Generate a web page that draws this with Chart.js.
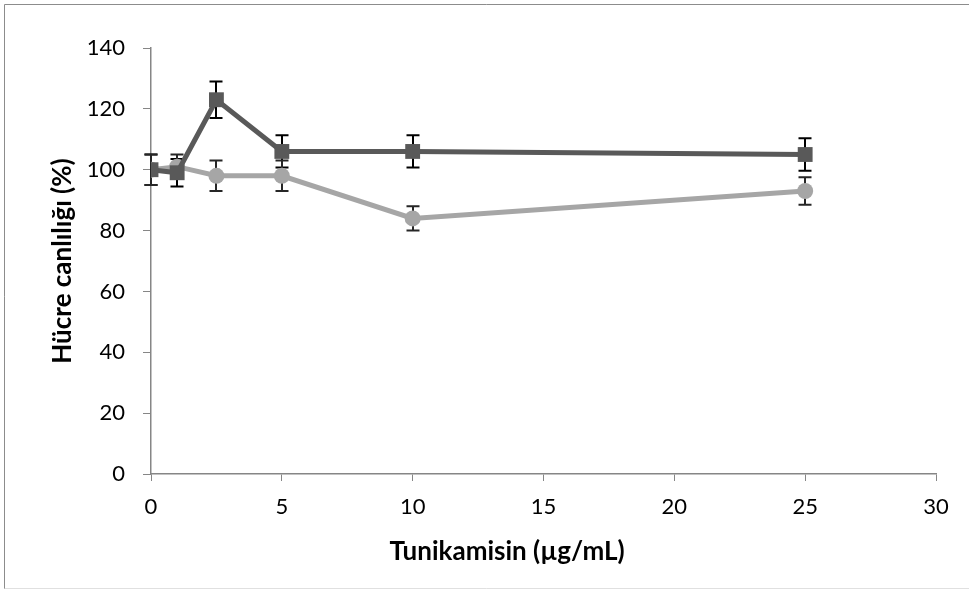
<!DOCTYPE html>
<html>
<head>
<meta charset="utf-8">
<script src="https://cdn.jsdelivr.net/npm/chart.js@4/dist/chart.umd.min.js"></script>
<style>
  html, body { margin: 0; padding: 0; background: #fff; }
  #wrap { width: 969px; height: 590px; position: relative; }
</style>
</head>
<body>
<div id="wrap"><canvas id="viabilityChart"></canvas></div>
<script>
// concentrations (µg/mL)
const doses = [0, 1, 2.5, 5, 10, 25];

// cell viability (%) and error
const seriesDark = [100, 99, 123, 106, 106, 105];
const errDark = [5, 4.5, 6, 5.3, 5.3, 5.3];
const seriesLight = [100, 101, 98, 98, 84, 93];
const errLight = [5, 4, 5, 5, 4, 4.5];

const xTicks = [0, 5, 10, 15, 20, 25, 30];
const yTicks = [0, 20, 40, 60, 80, 100, 120, 140];

const xTitle = 'Tunikamisin (µg/mL)';
const yTitle = 'Hücre canlılığı (%)';

function toPoints(xs, ys) {
    return xs.map((x, i) => ({ x: x, y: ys[i] }));
}

// frame around the whole picture, and the x title (centred like the original, not on the axis)
const framePlugin = {
    id: 'frame',
    beforeDraw(chart) {
        let ctx = chart.ctx;
        ctx.save();
        ctx.fillStyle = '#fff';
        ctx.fillRect(0, 0, chart.width, chart.height);
        ctx.strokeStyle = '#8c8c8c';
        ctx.lineWidth = 1;
        ctx.beginPath();
        ctx.moveTo(4.5, 589);
        ctx.lineTo(4.5, 4.5);
        ctx.lineTo(chart.width, 4.5);
        ctx.stroke();
        ctx.strokeStyle = '#e0e0e0';
        ctx.beginPath();
        ctx.moveTo(4.5, 588.5);
        ctx.lineTo(chart.width, 588.5);
        ctx.stroke();
        ctx.restore();
    },
    afterDraw(chart) {
        let ctx = chart.ctx;
        ctx.save();
        ctx.fillStyle = '#000';
        ctx.font = 'bold 26px Lato';
        ctx.textAlign = 'center';
        ctx.textBaseline = 'middle';
        ctx.fillText(xTitle, 507, 552);
        ctx.restore();
    }
};

// error bars drawn before the lines
const errorBarPlugin = {
    id: 'errorBars',
    beforeDatasetsDraw(chart) {
        let ctx = chart.ctx;
        let xs = chart.scales.x, ys = chart.scales.y;
        chart.data.datasets.forEach((ds) => {
            let errs = ds.errors;
            ctx.save();
            ctx.strokeStyle = ds.errColor;
            ctx.lineWidth = 2;
            ds.data.forEach((p, i) => {
                let px = Math.round(xs.getPixelForValue(p.x));
                let top = ys.getPixelForValue(p.y + errs[i]);
                let bot = ys.getPixelForValue(p.y - errs[i]);
                ctx.beginPath();
                ctx.moveTo(px, top);
                ctx.lineTo(px, bot);
                ctx.moveTo(px - 6.5, top);
                ctx.lineTo(px + 6.5, top);
                ctx.moveTo(px - 6.5, bot);
                ctx.lineTo(px + 6.5, bot);
                ctx.stroke();
            });
            ctx.restore();
        });
    }
};

let ctx = document.getElementById('viabilityChart').getContext('2d');
let chart = new Chart(ctx, {
    type: 'line',
    data: {
        datasets: [{
            data: toPoints(doses, seriesDark),
            errors: errDark,
            errColor: '#000',
            borderColor: '#595959',
            backgroundColor: '#595959',
            borderWidth: 5,
            pointStyle: 'rect',
            pointRadius: 10.5,
            pointBorderWidth: 0,
            tension: 0
        }, {
            data: toPoints(doses, seriesLight),
            errors: errLight,
            errColor: '#262626',
            borderColor: '#a6a6a6',
            backgroundColor: '#a6a6a6',
            borderWidth: 5,
            pointStyle: 'circle',
            pointRadius: 8,
            pointBorderWidth: 0,
            tension: 0
        }]
    },
    options: {
        responsive: true,
        maintainAspectRatio: false,
        animation: false,
        layout: { padding: { left: 36, right: 33, top: 48, bottom: 26 } },
        plugins: {
            legend: { display: false },
            tooltip: { enabled: false }
        },
        scales: {
            x: {
                type: 'linear',
                min: 0,
                max: 30,
                afterBuildTicks: s => { s.ticks = xTicks.map(v => ({ value: v })); },
                grid: { drawOnChartArea: false, drawTicks: true, tickLength: 7, color: '#868686' },
                border: { color: '#868686', width: 1.5 },
                ticks: { color: '#000', padding: 13, font: { family: 'Lato', size: 22 } },
                afterFit: s => { s.height = 90; }
            },
            y: {
                min: 0,
                max: 140,
                afterBuildTicks: s => { s.ticks = yTicks.map(v => ({ value: v })); },
                grid: { drawOnChartArea: false, drawTicks: true, tickLength: 8, color: '#868686' },
                border: { color: '#868686', width: 1.5 },
                ticks: { color: '#000', padding: 18, font: { family: 'Lato', size: 22 } },
                title: {
                    display: true,
                    text: yTitle,
                    color: '#000',
                    padding: { top: 11, bottom: 0 },
                    font: { family: 'Lato', size: 26, weight: 'bold' }
                },
                afterFit: s => { s.width = 115; }
            }
        }
    },
    plugins: [framePlugin, errorBarPlugin]
});
</script>
</body>
</html>
